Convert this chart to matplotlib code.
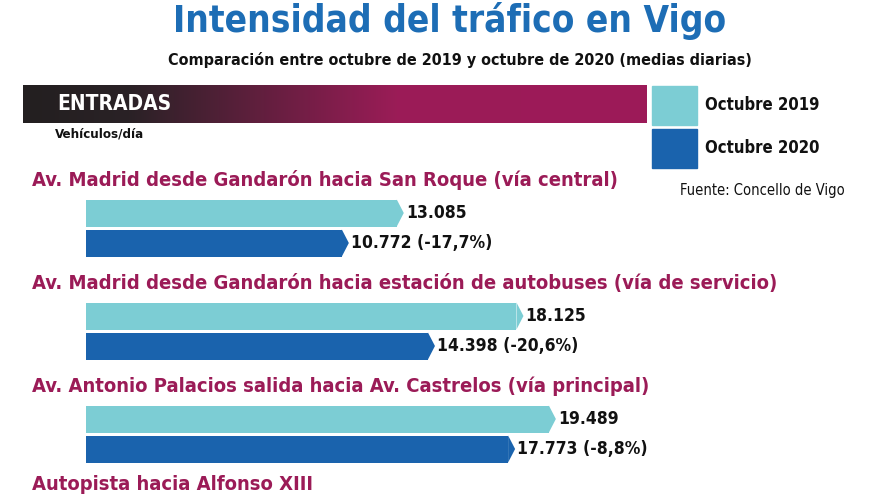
import numpy as np
import matplotlib
matplotlib.use("Agg")
import matplotlib.pyplot as plt
from matplotlib.colors import LinearSegmentedColormap

# datos (vehiculos/dia)
tramos = [
    "Av. Madrid desde Gandarón hacia San Roque (vía central)",
    "Av. Madrid desde Gandarón hacia estación de autobuses (vía de servicio)",
    "Av. Antonio Palacios salida hacia Av. Castrelos (vía principal)",
    "Autopista hacia Alfonso XIII",
]
oct_2019 = [13085, 18125, 19489]
oct_2020 = [10772, 14398, 17773]
etiq_2019 = ["13.085", "18.125", "19.489"]
etiq_2020 = ["10.772 (-17,7%)", "14.398 (-20,6%)", "17.773 (-8,8%)"]

c_light = "#7ccdd4"
c_dark = "#1a63ad"
c_mag = "#9b1b57"
c_title = "#1d6db5"

FONT = ["DejaVu Sans"]
ST = "condensed"
W, H = 880, 495

fig = plt.figure(figsize=(8.8, 4.95), dpi=100)
fig.patch.set_facecolor("white")

def ftext(x, y, s, **kw):
    # coordenadas en pixeles del lienzo
    fig.text(x / W, 1 - y / H, s, family=FONT, fontstretch=ST, **kw)

# titulo
ftext(450, 21, "Intensidad del tráfico en Vigo", ha="center", va="center",
      fontsize=26.5, fontweight="bold", color=c_title)
ftext(460, 60, "Comparación entre octubre de 2019 y octubre de 2020 (medias diarias)",
      ha="center", va="center", fontsize=11.5, fontweight="bold", color="#111111")

# barra de cabecera con degradado
ax_h = fig.add_axes([23 / W, 1 - 123 / H, 623 / W, 38 / H])
cmap = LinearSegmentedColormap.from_list(
    "cab", [(0, "#231f20"), (0.17, "#2a2226"), (0.6, "#9b1c57"), (1, "#9d1a59")])
ax_h.imshow(np.linspace(0, 1, 256).reshape(1, -1), cmap=cmap, aspect="auto")
ax_h.axis("off")
ftext(57, 104, "ENTRADAS", ha="left", va="center", fontsize=15,
      fontweight="bold", color="white")
ftext(55, 134, "Vehículos/día", ha="left", va="center", fontsize=9.5,
      fontweight="bold", color="#111111")

# leyenda
ax_l = fig.add_axes([0, 0, 1, 1], facecolor="none")
ax_l.set_xlim(0, W)
ax_l.set_ylim(H, 0)
ax_l.axis("off")
ax_l.add_patch(plt.Rectangle((652, 86), 45, 39, color=c_light))
ax_l.add_patch(plt.Rectangle((652, 129), 45, 39, color=c_dark))
ftext(705, 105, "Octubre 2019", ha="left", va="center", fontsize=12,
      fontweight="bold", color="#111111")
ftext(705, 148, "Octubre 2020", ha="left", va="center", fontsize=12,
      fontweight="bold", color="#111111")
ftext(680, 190, "Fuente: Concello de Vigo", ha="left", va="center",
      fontsize=10.5, color="#111111")

# barras
x0 = 86
esc = 0.02375  # px por vehiculo
ax = fig.add_axes([0, 0, 1, 1], facecolor="none")
ax.set_xlim(-x0 / esc, (W - x0) / esc)
ax.set_ylim(H, 0)
ax.axis("off")

paso = 103
y_cat = [180 + paso * i for i in range(len(tramos))]
y_cat[-1] = min(y_cat[-1], 485)
y_19 = [213 + paso * i for i in range(len(oct_2019))]
y_20 = [243 + paso * i for i in range(len(oct_2020))]

for i, t in enumerate(tramos):
    ax.text(-54 / esc, y_cat[i], t, ha="left", va="center", family=FONT,
            fontstretch=ST, fontsize=14.5, fontweight="bold", color=c_mag)

ax.barh(y_19, oct_2019, height=27, color=c_light)
ax.barh(y_20, oct_2020, height=27, color=c_dark)

# punta de flecha al final de cada barra
for ys, vals, col in [(y_19, oct_2019, c_light), (y_20, oct_2020, c_dark)]:
    for y, v in zip(ys, vals):
        ax.fill([v, v + 7 / esc, v], [y - 13.5, y, y + 13.5], color=col, lw=0)

for y, v, s in zip(y_19, oct_2019, etiq_2019):
    ax.text(v + 9 / esc, y, s, ha="left", va="center", family=FONT,
            fontstretch=ST, fontsize=12.5, fontweight="bold", color="#111111")
for y, v, s in zip(y_20, oct_2020, etiq_2020):
    ax.text(v + 9 / esc, y, s, ha="left", va="center", family=FONT,
            fontstretch=ST, fontsize=12.5, fontweight="bold", color="#111111")

fig.savefig("out.png", dpi=100)
